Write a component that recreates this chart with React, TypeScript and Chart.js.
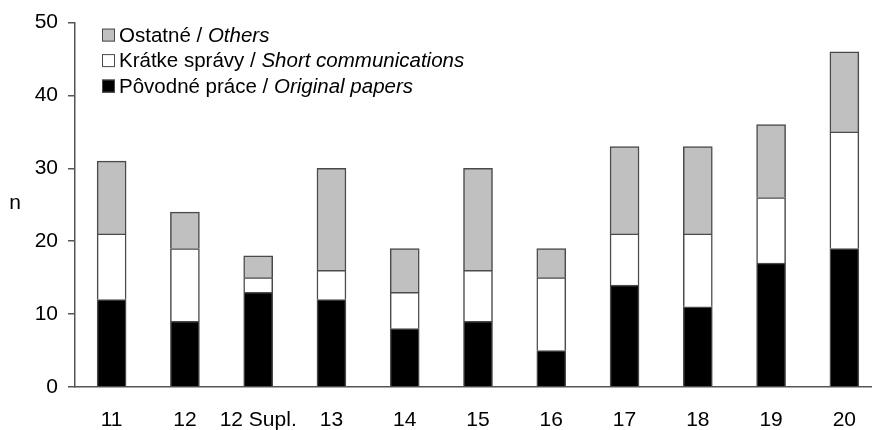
import React, { useEffect, useRef } from "react";
import { Chart, registerables } from "chart.js";

Chart.register(...registerables);

const categories = ["11", "12", "12 Supl.", "13", "14", "15", "16", "17", "18", "19", "20"];
const originalPapers = [12, 9, 13, 12, 8, 9, 5, 14, 11, 17, 19];
const shortCommunications = [9, 10, 2, 4, 5, 7, 10, 7, 10, 9, 16];
const others = [10, 5, 3, 14, 6, 14, 4, 12, 12, 10, 11];
const seriesLabels = [
  "Pôvodné práce / Original papers",
  "Krátke správy / Short communications",
  "Ostatné / Others",
];
const seriesColors = ["#000000", "#ffffff", "#c0c0c0"];
const yMax = 50;
const yStep = 10;
const yAxisTitle = "n";

const FONT = "'Liberation Sans', Arial, sans-serif";
const FONT_SIZE = 21;
const LEGEND_FONT_SIZE = 20.5;
const AXIS_COLOR = "#555555";
const BORDER_COLOR = "#4a4a4a";

const legendPlugin = {
  id: "customLegend",
  afterDraw(chart: any) {
    const ctx = chart.ctx;
    const area = chart.chartArea;
    const ds = chart.data.datasets;
    ctx.save();
    const boxX = area.left + 27;
    const textX = area.left + 44;
    const firstBaseline = area.top + 19;
    const rowGap = 25.5;
    for (let i = 0; i < ds.length; i++) {
      const d = ds[ds.length - 1 - i];
      const parts = String(d.label).split(" / ");
      const by = firstBaseline + i * rowGap;
      ctx.fillStyle = d.backgroundColor;
      ctx.fillRect(boxX, by - 13, 13, 13);
      ctx.strokeStyle = BORDER_COLOR;
      ctx.lineWidth = 1;
      ctx.strokeRect(boxX + 0.5, by - 12.5, 12, 12);
      ctx.fillStyle = "#000";
      ctx.textBaseline = "alphabetic";
      ctx.textAlign = "left";
      ctx.font = `${LEGEND_FONT_SIZE}px ${FONT}`;
      const plain = parts[0] + " / ";
      ctx.fillText(plain, textX, by);
      const w = ctx.measureText(plain).width;
      ctx.font = `italic ${LEGEND_FONT_SIZE}px ${FONT}`;
      ctx.fillText(parts[1] || "", textX + w, by);
    }
    // y-axis title, upright
    ctx.font = `${FONT_SIZE}px ${FONT}`;
    ctx.fillStyle = "#000";
    ctx.textAlign = "center";
    ctx.textBaseline = "middle";
    ctx.fillText(yAxisTitle, 15, (area.top + area.bottom) / 2 - 2);
    ctx.restore();
  },
};

export default function App() {
  const ref = useRef<HTMLCanvasElement | null>(null);

  useEffect(() => {
    if (!ref.current) return;
    const mk = (i: number, data: number[]) => ({
      label: seriesLabels[i],
      data,
      backgroundColor: seriesColors[i],
      borderColor: BORDER_COLOR,
      borderWidth: 1.5,
      barThickness: 29,
    });
    const chart = new Chart(ref.current, {
      type: "bar",
      data: {
        labels: categories,
        datasets: [mk(0, originalPapers), mk(1, shortCommunications), mk(2, others)],
      },
      options: {
        responsive: false,
        animation: false,
        devicePixelRatio: 1,
        layout: { padding: { top: 21, right: 0, left: 0, bottom: 0 } },
        plugins: {
          legend: { display: false },
          tooltip: { enabled: false },
        },
        scales: {
          x: {
            stacked: true,
            offset: true,
            grid: { display: false, drawTicks: false },
            border: { display: true, color: AXIS_COLOR, width: 1.5 },
            ticks: {
              color: "#000",
              font: { family: FONT, size: FONT_SIZE },
              padding: 21,
              autoSkip: false,
              maxRotation: 0,
            },
            afterFit: (s: any) => {
              s.height = 43;
            },
          },
          y: {
            stacked: true,
            min: 0,
            max: yMax,
            grid: {
              drawOnChartArea: false,
              drawTicks: true,
              tickLength: 7,
              color: AXIS_COLOR,
              lineWidth: 1.5,
            },
            border: { display: true, color: AXIS_COLOR, width: 1.5 },
            ticks: {
              stepSize: yStep,
              color: "#000",
              font: { family: FONT, size: FONT_SIZE },
              padding: 10,
            },
            afterFit: (s: any) => {
              s.width = 75;
            },
          },
        },
      },
      plugins: [legendPlugin],
    });
    return () => chart.destroy();
  }, []);

  return (
    <div
      style={{
        position: "fixed",
        left: 0,
        top: 0,
        width: 872,
        height: 430,
        overflow: "hidden",
        background: "#fff",
      }}
    >
      <canvas ref={ref} width={881} height={430} style={{ display: "block" }} />
    </div>
  );
}
